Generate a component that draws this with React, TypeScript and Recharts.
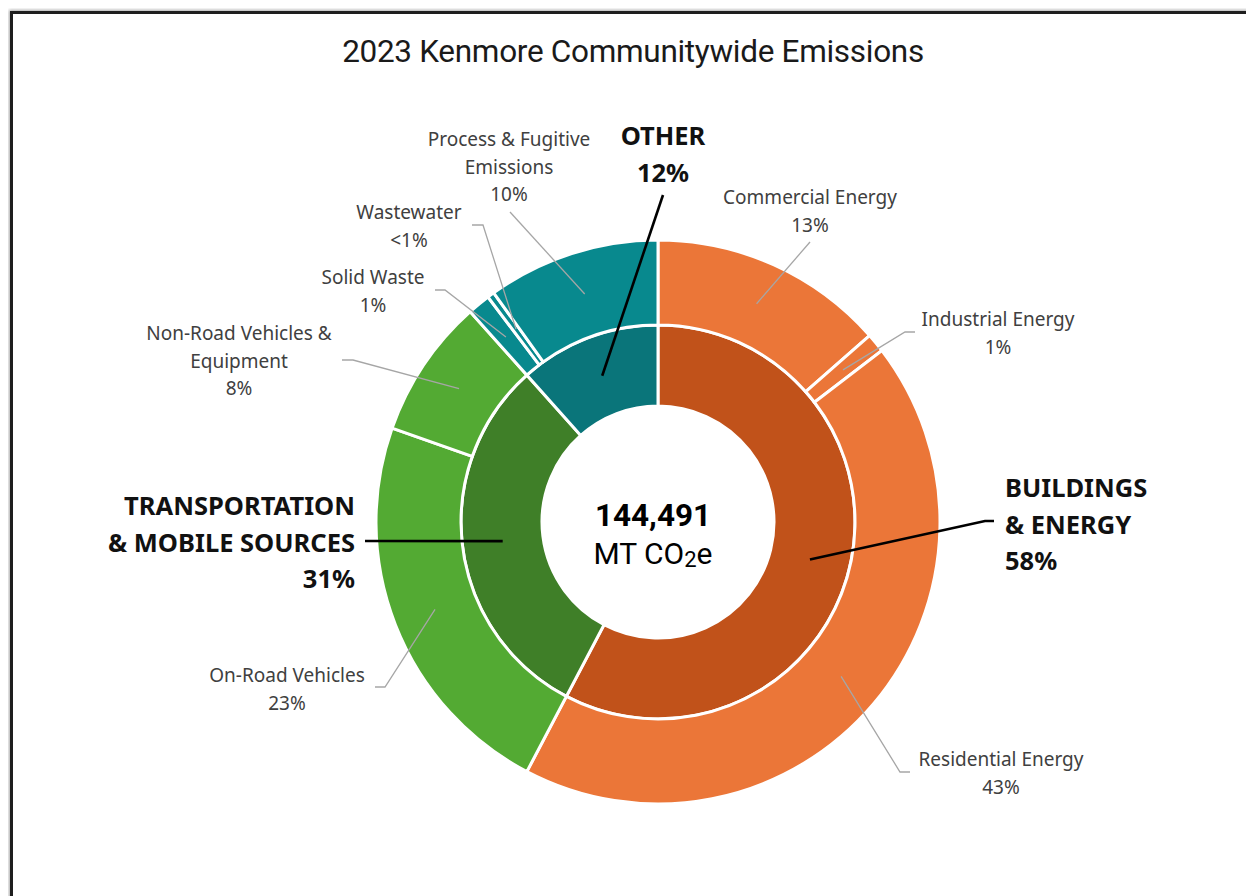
import React from "react";
import { PieChart, Pie, Cell } from "recharts";

const outerNames = [
  "Commercial Energy",
  "Industrial Energy",
  "Residential Energy",
  "On-Road Vehicles",
  "Non-Road Vehicles & Equipment",
  "Solid Waste",
  "Wastewater",
  "Process & Fugitive Emissions",
];
const outerValues = [13.5, 1.1, 43.1, 22.7, 8.0, 1.3, 0.4, 9.9];
const outerPctLabels = ["13%", "1%", "43%", "23%", "8%", "1%", "<1%", "10%"];
const outerColors = ["#EB7638", "#EB7638", "#EB7638", "#53AA33", "#53AA33", "#08898E", "#08898E", "#08898E"];

const innerNames = ["BUILDINGS & ENERGY", "TRANSPORTATION & MOBILE SOURCES", "OTHER"];
const innerValues = [57.7, 30.7, 11.6];
const innerPctLabels = ["58%", "31%", "12%"];
const innerColors = ["#C1521A", "#3F7F28", "#0A757A"];

const totalLabel = "144,491";
const titleText = "2023 Kenmore Communitywide Emissions";

const outerData = outerNames.map((n, i) => ({ name: n, value: outerValues[i] }));
const innerData = innerNames.map((n, i) => ({ name: n, value: innerValues[i] }));

// layout of label text (offsets from the pie centre)
const outerLabelLayout = [
  { lines: ["Commercial Energy"], x: 152, y: -325, path: [[152, -280]] },
  { lines: ["Industrial Energy"], x: 340, y: -203, path: [[257, -190], [247, -190]] },
  { lines: ["Residential Energy"], x: 343, y: 237, path: [[252, 250], [242, 250]] },
  { lines: ["On-Road Vehicles"], x: -371, y: 153, path: [[-283, 165], [-273, 165]] },
  { lines: ["Non-Road Vehicles &", "Equipment"], x: -419, y: -189, path: [[-316, -162], [-305, -162]] },
  { lines: ["Solid Waste"], x: -285, y: -245, path: [[-223, -232], [-213, -232]] },
  { lines: ["Wastewater"], x: -249, y: -310, path: [[-186, -297], [-175, -297]] },
  { lines: ["Process & Fugitive", "Emissions"], x: -149, y: -383, path: [[-148, -310]] },
];

const innerLabelLayout = [
  { lines: ["BUILDINGS", "& ENERGY"], x: 347, y: -35, anchor: "start", path: [[336, -1], [327, -1]] },
  { lines: ["TRANSPORTATION", "& MOBILE SOURCES"], x: -303, y: -17, anchor: "end", path: [[-293, 19]] },
  { lines: ["OTHER"], x: 5, y: -387, anchor: "middle", path: [[5, -327]] },
];

const CX = 645;
const CY = 509;
const R_OUT = 282;
const R_MID = 197;
const R_IN = 116;
const RAD = Math.PI / 180;

const LABEL_FONT = "'Noto Sans', 'Open Sans', sans-serif";

function anchorPoint(props: any) {
  const cx = props.cx ?? CX;
  const cy = props.cy ?? CY;
  const r = (props.innerRadius + props.outerRadius) / 2;
  const a = -props.midAngle * RAD;
  return { cx, cy, x: cx + r * Math.cos(a), y: cy + r * Math.sin(a) };
}

const renderOuterLabel = (props: any) => {
  const i = props.index;
  const L = outerLabelLayout[i];
  const { cx, cy, x, y } = anchorPoint(props);
  const pts = L.path.map((p) => `${cx + p[0]},${cy + p[1]}`).join(" ") + ` ${x},${y}`;
  const lines = [...L.lines, outerPctLabels[i]];
  return (
    <g key={`ol-${i}`}>
      <polyline points={pts} fill="none" stroke="#A6A6A6" strokeWidth={1.3} />
      {lines.map((t, k) => (
        <text
          key={k}
          x={cx + L.x}
          y={cy + L.y + k * 27.5}
          textAnchor="middle"
          dominantBaseline="central"
          fontFamily={LABEL_FONT}
          fontSize={19}
          fill="#404040"
        >
          {t}
        </text>
      ))}
    </g>
  );
};

const renderInnerLabel = (props: any) => {
  const i = props.index;
  const L = innerLabelLayout[i];
  const { cx, cy, x, y } = anchorPoint(props);
  const pts = L.path.map((p) => `${cx + p[0]},${cy + p[1]}`).join(" ") + ` ${x},${y}`;
  const lines = [...L.lines, innerPctLabels[i]];
  return (
    <g key={`il-${i}`}>
      <polyline points={pts} fill="none" stroke="#000" strokeWidth={2.6} />
      {lines.map((t, k) => (
        <text
          key={k}
          x={cx + L.x}
          y={cy + L.y + k * 36.5}
          textAnchor={L.anchor as any}
          dominantBaseline="central"
          fontFamily={LABEL_FONT}
          fontWeight={700}
          fontSize={25.5}
          fill="#111"
        >
          {t}
        </text>
      ))}
    </g>
  );
};

export default function App() {
  return (
    <div style={{ position: "relative", width: 1246, height: 888, overflow: "hidden", background: "#fff" }}>
      <div
        style={{
          position: "absolute",
          left: 2,
          top: 3,
          width: 1400,
          height: 1000,
          borderLeft: "3px solid #1e1e1e",
          borderTop: "3px solid #1e1e1e",
          boxShadow: "-1px -1px 3px rgba(0,0,0,0.35)",
        }}
      />
      <div style={{ position: "absolute", left: 0, top: 0 }}>
        <PieChart width={1246} height={888}>
          <text
            x={625}
            y={43}
            textAnchor="middle"
            dominantBaseline="central"
            fontFamily="Roboto, sans-serif"
            fontSize={31.5}
            fill="#1a1a1a"
            style={{ letterSpacing: "-0.3px" }}
          >
            {titleText}
          </text>
          <Pie
            data={innerData}
            dataKey="value"
            nameKey="name"
            cx={CX}
            cy={CY}
            innerRadius={R_IN}
            outerRadius={R_MID}
            startAngle={90}
            endAngle={-270}
            stroke="#ffffff"
            strokeWidth={3}
            isAnimationActive={false}
            label={renderInnerLabel}
            labelLine={false}
          >
            {innerData.map((d, i) => (
              <Cell key={d.name} fill={innerColors[i]} />
            ))}
          </Pie>
          <Pie
            data={outerData}
            dataKey="value"
            nameKey="name"
            cx={CX}
            cy={CY}
            innerRadius={R_MID}
            outerRadius={R_OUT}
            startAngle={90}
            endAngle={-270}
            stroke="#ffffff"
            strokeWidth={3}
            isAnimationActive={false}
            label={renderOuterLabel}
            labelLine={false}
          >
            {outerData.map((d, i) => (
              <Cell key={d.name} fill={outerColors[i]} />
            ))}
          </Pie>
          <text
            x={CX}
            y={CY - 2}
            textAnchor="middle"
            dominantBaseline="central"
            fontFamily="Roboto, sans-serif"
            fontWeight={700}
            fontSize={31.5}
            fill="#000"
          >
            {totalLabel}
          </text>
          <text
            x={CX}
            y={CY + 36}
            textAnchor="middle"
            dominantBaseline="central"
            fontFamily="Roboto, sans-serif"
            fontSize={30}
            fill="#000"
          >
            MT CO
            <tspan fontSize={22} dy={6}>
              2
            </tspan>
            <tspan dy={-6}>e</tspan>
          </text>
        </PieChart>
      </div>
    </div>
  );
}
